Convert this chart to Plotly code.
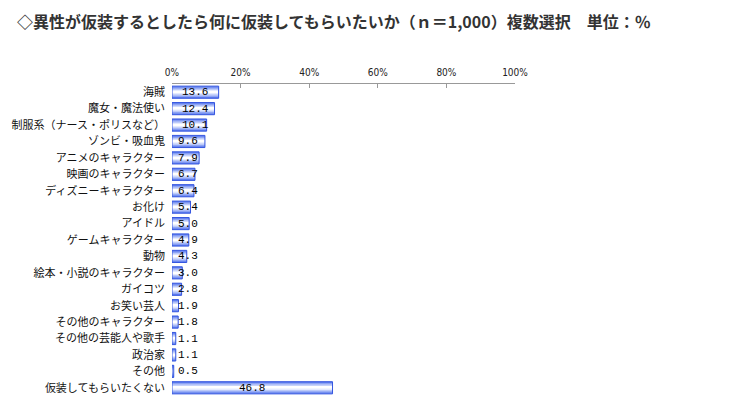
import plotly.graph_objects as go

title_text = "◇異性が仮装するとしたら何に仮装してもらいたいか（ｎ＝1,000）複数選択　単位：％"

categories = [
    "海賊", "魔女・魔法使い", "制服系（ナース・ポリスなど）", "ゾンビ・吸血鬼",
    "アニメのキャラクター", "映画のキャラクター", "ディズニーキャラクター",
    "お化け", "アイドル", "ゲームキャラクター", "動物", "絵本・小説のキャラクター",
    "ガイコツ", "お笑い芸人", "その他のキャラクター", "その他の芸能人や歌手",
    "政治家", "その他", "仮装してもらいたくない",
]
values = [13.6, 12.4, 10.1, 9.6, 7.9, 6.7, 6.4, 5.4, 5.0, 4.9, 4.3, 3.0,
          2.8, 1.9, 1.8, 1.1, 1.1, 0.5, 46.8]

tick_vals = [0, 20, 40, 60, 80, 100]
tick_text = ["0%", "20%", "40%", "60%", "80%", "100%"]

fig = go.Figure()

# simulated vertical gradient: stacked overlay bars of decreasing thickness
layers = [
    (0.74, "#5f7eee"),
    (0.58, "#8ea4f4"),
    (0.42, "#bccaf9"),
    (0.26, "#e4eafe"),
    (0.10, "#ffffff"),
]
for w, c in layers:
    fig.add_trace(go.Bar(
        x=values, y=categories, orientation="h", width=w,
        marker=dict(color=c, line=dict(width=0)),
        hoverinfo="skip", showlegend=False,
    ))
# border
fig.add_trace(go.Bar(
    x=values, y=categories, orientation="h", width=0.74,
    marker=dict(color="rgba(0,0,0,0)", line=dict(color="#3556e0", width=1)),
    hoverinfo="skip", showlegend=False,
))

for cat, v in zip(categories, values):
    label = f"{v:.1f}"
    if v >= 20:
        fig.add_annotation(x=v / 2, y=cat, text=label, showarrow=False,
                           xanchor="center", yanchor="middle")
    else:
        shift = 8 if v >= 10 else 4
        fig.add_annotation(x=0, y=cat, text=label, showarrow=False,
                           xanchor="left", yanchor="middle", xshift=shift)

fig.update_annotations(font=dict(family="Liberation Mono", size=11, color="#000"))

fig.update_layout(
    width=753, height=410,
    margin=dict(l=164, r=246, t=76, b=22),
    paper_bgcolor="white", plot_bgcolor="white",
    barmode="overlay",
    title=dict(text=title_text, xref="container", yref="container",
               x=9 / 753, xanchor="left", y=1 - 14 / 410, yanchor="middle",
               pad=dict(l=0, r=0, t=0, b=0),
               font=dict(family="Noto Sans CJK JP", size=16, color="#333333",
                         weight="bold")),
    xaxis=dict(range=[0, 100], side="top", tickvals=tick_vals, ticktext=tick_text,
               showline=True, linecolor="#999999", linewidth=1,
               ticks="inside", ticklen=4, tickcolor="#999999",
               showgrid=False, zeroline=False, fixedrange=True, automargin=False,
               ticklabelstandoff=3,
               tickfont=dict(family="DejaVu Sans Condensed", size=10, color="#222")),
    yaxis=dict(type="category", autorange="reversed", showline=False,
               showgrid=False, zeroline=False, ticks="", ticklabelstandoff=6,
               automargin=False,
               tickfont=dict(family="Noto Sans CJK JP", size=11, color="#111")),
)

fig.write_html("out.html")
